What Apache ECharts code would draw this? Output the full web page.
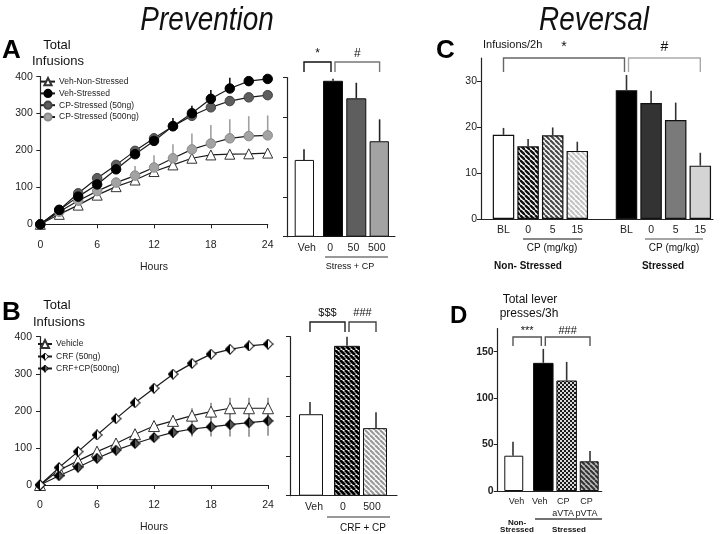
<!DOCTYPE html>
<html><head><meta charset="utf-8">
<script src="https://cdn.jsdelivr.net/npm/echarts@6/dist/echarts.min.js"></script>
<style>html,body{margin:0;padding:0;background:#fff}#c{width:725px;height:534px}</style>
</head><body><div id="c"></div>
<script>
const FONT = 'Liberation Sans, Arial, sans-serif';
// ---------- DATA ----------
const hours = [0,2,4,6,8,10,12,14,16,18,20,22,24];
const hourTicks = [0,6,12,18,24];
// Panel A (Prevention, stress)
const aVehNonStressed    = [0,27,52,79,102,120,143,161,179,188,190,191,193];
const aVehNonStressedErr = [0,3,4,5,6,7,8,9,10,10,10,10,10];
const aVehStressed       = [0,39,75,108,149,190,226,266,301,340,368,388,394];
const aVehStressedErr    = [0,3,5,8,10,12,20,22,20,24,29,10,6];
const aCp50              = [0,39,84,125,161,199,233,266,294,317,334,344,350];
const aCp50Err           = [0,3,5,6,8,10,12,15,18,14,14,12,10];
const aCp500             = [0,34,64,90,113,132,154,179,203,219,233,239,241];
const aCp500Err          = [0,3,6,8,14,26,33,38,43,50,52,54,54];
const aBarCats   = ['Veh','0','50','500'];
const aBarTotals = [193,392,348,240];
const aBarErr    = [27,5,39,55];
// Panel B (Prevention, CRF)
const bVehicle    = [0,40,65,90,112,137,159,173,187,198,207,207,207];
const bVehicleErr = [0,4,6,8,10,12,14,16,20,24,28,28,28];
const bCrf        = [0,47,90,135,179,222,261,299,328,353,366,375,380];
const bCrfErr     = [0,3,4,5,5,5,6,6,6,7,8,8,6];
const bCrfCp      = [0,25,48,72,94,112,128,142,151,157,163,168,173];
const bCrfCpErr   = [0,3,5,6,8,10,12,15,20,26,32,38,40];
const bBarCats   = ['Veh','0','500'];
const bBarTotals = [205,377,170];
const bBarErr    = [31,23,40];
// Panel C (Reversal, infusions/2h)
const cCats      = ['BL','0','5','15','','BL','0','5','15'];
const cInfusions = [18.3,15.8,18.2,14.8,null,28.0,25.2,21.5,11.6];
const cErr       = [1.5,1.6,1.7,2.0,null,3.3,2.7,3.8,2.8];
const cTicks     = [0,10,20,30];
// Panel D (lever presses/3h)
const dCats    = ['Veh','Veh','CP\naVTA','CP\npVTA'];
const dPresses = [38,138,119,32];
const dErr     = [15,15,20,11];
const dTicks   = [0,50,100,150];

// ---------- STYLE HELPERS ----------
function hatch(fg, bg, p, lw) {
  const c = document.createElement('canvas'); c.width = c.height = p;
  const g = c.getContext('2d'); g.fillStyle = bg; g.fillRect(0,0,p,p);
  g.strokeStyle = fg; g.lineWidth = lw;
  for (const k of [-p,0,p]) { g.beginPath(); g.moveTo(k,0); g.lineTo(k+p,p); g.stroke(); }
  return {image: c, repeat: 'repeat'};
}
function checker() {
  const c = document.createElement('canvas'); c.width = c.height = 4;
  const g = c.getContext('2d'); g.fillStyle = '#1a1a1a'; g.fillRect(0,0,4,4);
  g.fillStyle = '#d8d8d8'; g.fillRect(0,0,2,2); g.fillRect(2,2,2,2);
  return {image: c, repeat: 'repeat'};
}
function halfDiamond(rightColor) {
  const s = 24, c = document.createElement('canvas'); c.width = c.height = s;
  const g = c.getContext('2d');
  g.beginPath(); g.moveTo(s/2,1.5); g.lineTo(s-1.5,s/2); g.lineTo(s/2,s-1.5); g.closePath(); g.fillStyle = rightColor; g.fill();
  g.beginPath(); g.moveTo(s/2,1.5); g.lineTo(1.5,s/2); g.lineTo(s/2,s-1.5); g.closePath(); g.fillStyle = '#000'; g.fill();
  g.beginPath(); g.moveTo(s/2,1.5); g.lineTo(s-1.5,s/2); g.lineTo(s/2,s-1.5); g.lineTo(1.5,s/2); g.closePath();
  g.strokeStyle = '#000'; g.lineWidth = 2; g.stroke();
  return 'image://' + c.toDataURL();
}
const aBarColors = ['#ffffff','#000000','#5e5e5e','#a3a3a3'];
const bBarColors = ['#ffffff', hatch('#000','#fff',5,2.8), hatch('#9a9a9a','#fff',5,2.2)];
const cColors = ['#ffffff', hatch('#111','#fff',5,2.4), hatch('#4a4a4a','#fff',5,2.2), hatch('#c4c4c4','#fff',5,2.2), '#fff', '#000000', '#333333', '#7a7a7a', '#d4d4d4'];
const dColors = ['#ffffff','#000000', checker(), hatch('#333','#bdbdbd',5,2)];

const axLine = {show:true, lineStyle:{color:'#222', width:1.2}};
const axTick = {show:true, length:4, lineStyle:{color:'#222', width:1}};
const axLabel = {fontSize:10.5, color:'#222', fontFamily:FONT, margin:4};
const noSplit = {show:false};

function lineXAxis(gi) {
  return {type:'value', gridIndex:gi, min:0, max:24, interval:6, offset:10,
    axisLine:axLine, axisTick:axTick, axisLabel:{...axLabel, margin:5}, splitLine:noSplit,
    name:'Hours', nameLocation:'middle', nameGap:27, nameTextStyle:{fontSize:10.5, color:'#222', fontFamily:FONT}};
}
function lineYAxis(gi) {
  return {type:'value', gridIndex:gi, min:0, max:400, interval:100, offset:3.5,
    axisLine:axLine, axisTick:axTick, axisLabel:axLabel, splitLine:noSplit};
}
function frameX(gi) { return {type:'value', gridIndex:gi, min:0, max:1, axisLine:axLine, axisTick:{show:false}, axisLabel:{show:false}, splitLine:noSplit}; }
function frameY(gi, max, ticks, labels, bold) {
  return {type:'value', gridIndex:gi, min:0, max:max,
    axisLine:axLine, axisTick:{...axTick, customValues:ticks},
    axisLabel:{...axLabel, show:labels, customValues:ticks, fontWeight: bold ? 'bold' : 'normal'}, splitLine:noSplit};
}
function dataX(gi, cats, fs) {
  return {type:'category', gridIndex:gi, data:cats, axisLine:{show:false}, axisTick:{show:false},
    axisLabel:{fontSize:fs, color:'#222', fontFamily:FONT, margin:5, lineHeight:12, interval:0}, splitLine:noSplit};
}
function dataY(gi, max) { return {type:'value', gridIndex:gi, min:0, max:max, show:false}; }

function lineSeries(gi, name, ys, symbol, size, color, border) {
  return {type:'line', name, xAxisIndex:gi, yAxisIndex:gi, data: hours.map((h,i)=>[h, ys[i]]),
    symbol, symbolSize:size, showAllSymbol:true, z:3,
    itemStyle:{color, borderColor:border, borderWidth:1}, lineStyle:{color:'#1a1a1a', width:1.2}, silent:true};
}
function errSeries(gi, xs, ys, es, color, both, shift) {
  return {type:'custom', xAxisIndex:gi, yAxisIndex:gi, silent:true, z: both === 'bar' ? 4 : 1,
    data: xs.map((x,i)=> ys[i] == null ? null : [x, ys[i], es[i]]).filter(d=>d),
    renderItem(params, api) {
      const x = api.value(0), y = api.value(1), e = api.value(2);
      const sh = shift ? shift(x) : 0;
      const lo = both === true ? y - e : y;
      const p0 = api.coord([x, lo]), p1 = api.coord([x, y + e]);
      return {type:'line', shape:{x1:p0[0]+sh, y1:p0[1], x2:p1[0]+sh, y2:p1[1]}, style:{stroke:color, lineWidth:1.6}};
    }};
}
// two bar series in one category axis so that the first group sits apart from the others
function groupedBars(gi, vals, colors, firstGroup, bw, gapFrac) {
  const mk = keep => vals.map((v,i)=> keep(i) ? {value:v, itemStyle:{color:colors[i]}} : '-');
  const base = {type:'bar', xAxisIndex:gi, yAxisIndex:gi, barWidth:bw, barGap:(gapFrac*100)+'%',
    itemStyle:{borderColor:'#111', borderWidth:1}, silent:true, z:2};
  return [{...base, data:mk(i=>i<firstGroup)}, {...base, data:mk(i=>i>=firstGroup)}];
}
const aBW = 20, aGap = -0.715, aD = (aBW + aBW*aGap)/2;
const bBW = 26, bGap = -0.692, bD = (bBW + bBW*bGap)/2;
const dBW = 20.5, dGap = -0.66, dD = (dBW + dBW*dGap)/2;
const aShift = i => i < 1 ? -aD : aD;
const bShift = i => i < 1 ? -bD : bD;
const dShift = i => i < 1 ? -dD : dD;

const crfSym = halfDiamond('#ffffff');
const crfCpSym = halfDiamond('#555555');

const grids = [
  {left:40.3, top:76.7, width:227.4, height:147.6},   // 0 A line
  {left:287, top:77.6, width:108, height:159.1},      // 1 A bar frame
  {left:295.2, top:77.6, width:93.2, height:159.1},   // 2 A bar data
  {left:40, top:336.7, width:228, height:148.3},      // 3 B line
  {left:290, top:336.7, width:107, height:159},       // 4 B bar frame
  {left:299.5, top:336.7, width:87, height:159},      // 5 B bar data
  {left:481, top:58, width:232, height:161},          // 6 C frame
  {left:491.2, top:58, width:221.4, height:161},      // 7 C data
  {left:497.7, top:328.5, width:104, height:162.5},   // 8 D frame
  {left:504.8, top:328.5, width:93.4, height:162.5}   // 9 D data
];

const option = {
  animation:false, backgroundColor:'#fff',
  grid: grids,
  xAxis: [lineXAxis(0), frameX(1), dataX(2,aBarCats,10.5), lineXAxis(3), frameX(4), dataX(5,bBarCats,10.5),
          frameX(6), dataX(7,cCats,10.5), frameX(8), dataX(9,dCats,9)],
  yAxis: [lineYAxis(0), frameY(1,400,[0,100,200,300,400],false), dataY(2,400),
          {...lineYAxis(3), offset:4}, frameY(4,400,[0,100,200,300,400],false), dataY(5,400),
          frameY(6,35,cTicks,true,false), dataY(7,35), frameY(8,175,dTicks,true,true), dataY(9,175)],
  legend: [
    {data:['Veh-Non-Stressed','Veh-Stressed','CP-Stressed (50ng)','CP-Stressed (500ng)'], orient:'vertical',
     left:40, top:77, padding:0, itemWidth:14, itemHeight:9, itemGap:2.6, selectedMode:false,
     textStyle:{fontSize:8.5, color:'#222', fontFamily:FONT, padding:[0,0,0,-1]}},
    {data:['Vehicle','CRF (50ng)','CRF+CP(500ng)'], orient:'vertical',
     left:37, top:339, padding:0, itemWidth:14, itemHeight:10, itemGap:3, selectedMode:false,
     textStyle:{fontSize:8.5, color:'#222', fontFamily:FONT, padding:[0,0,0,-1]}}
  ],
  series: [
    // A line
    errSeries(0, hours, aVehNonStressed, aVehNonStressedErr, '#777', false),
    errSeries(0, hours, aCp500, aCp500Err, '#a0a0a0', false),
    errSeries(0, hours, aCp50, aCp50Err, '#555', false),
    errSeries(0, hours, aVehStressed, aVehStressedErr, '#111', false),
    lineSeries(0, 'Veh-Non-Stressed', aVehNonStressed, 'triangle', 10, '#fff', '#333'),
    lineSeries(0, 'CP-Stressed (500ng)', aCp500, 'circle', 9.5, '#a3a3a3', '#8a8a8a'),
    lineSeries(0, 'CP-Stressed (50ng)', aCp50, 'circle', 9.5, '#5e5e5e', '#444'),
    lineSeries(0, 'Veh-Stressed', aVehStressed, 'circle', 9.5, '#000', '#000'),
    // A bar
    ...groupedBars(2, aBarTotals, aBarColors, 1, aBW, aGap),
    errSeries(2, aBarCats.map((c,i)=>i), aBarTotals, aBarErr, '#222', 'bar', aShift),
    // B line
    errSeries(3, hours, bVehicle, bVehicleErr, '#8a8a8a', true),
    errSeries(3, hours, bCrfCp, bCrfCpErr, '#8a8a8a', true),
    errSeries(3, hours, bCrf, bCrfErr, '#555', true),
    lineSeries(3, 'Vehicle', bVehicle, 'triangle', 11, '#fff', '#333'),
    lineSeries(3, 'CRF+CP(500ng)', bCrfCp, crfCpSym, 11, '#000', '#000'),
    lineSeries(3, 'CRF (50ng)', bCrf, crfSym, 11, '#000', '#000'),
    // B bar
    ...groupedBars(5, bBarTotals, bBarColors, 1, bBW, bGap),
    errSeries(5, bBarCats.map((c,i)=>i), bBarTotals, bBarErr, '#333', 'bar', bShift),
    // C bar
    {type:'bar', xAxisIndex:7, yAxisIndex:7, barWidth:21.5, silent:true, z:2,
     itemStyle:{borderColor:'#111', borderWidth:1.2},
     data: cInfusions.map((v,i)=> v == null ? '-' : {value:v, itemStyle:{color:cColors[i]}})},
    errSeries(7, cCats.map((c,i)=>i), cInfusions, cErr, '#333', 'bar'),
    // D bar
    ...groupedBars(9, dPresses, dColors, 1, dBW, dGap),
    errSeries(9, dCats.map((c,i)=>i), dPresses, dErr, '#333', 'bar', dShift)
  ]
};

const chart = echarts.init(document.getElementById('c'), null, {renderer:'canvas', width:725, height:534});
chart.setOption(option);

// ---------- ANNOTATIONS ----------
function barCenter(gi, i, shift) {
  return chart.convertToPixel({xAxisIndex:gi, yAxisIndex:gi}, [i, 0])[0] + (shift ? shift(i) : 0);
}
function txt(x, y, s, size, o) {
  o = o || {};
  return {type:'text', x, y, silent:true, scaleX:o.sx || 1, z:10,
    style:{text:s, fontSize:size, fontFamily:FONT, fill:o.fill || '#111', align:o.align || 'center',
      verticalAlign:'middle', fontWeight:o.weight || 'normal', fontStyle:o.style || 'normal'}};
}
function seg(x1, y1, x2, y2, color, w) {
  return {type:'line', silent:true, z:10, shape:{x1,y1,x2,y2}, style:{stroke:color, lineWidth:w || 1.3}};
}
function brackets(gi, shift, list, yTop, yBot, yLab, fs) {
  const out = [];
  list.forEach(b => {
    let x1 = barCenter(gi, b.from, shift), x2 = barCenter(gi, b.to, shift);
    if (list.some(o => o !== b && o.from === b.to)) x2 -= 2;
    if (list.some(o => o !== b && o.to === b.from)) x1 += 2;
    out.push({type:'polyline', silent:true, z:10, shape:{points:[[x1,yBot],[x1,yTop],[x2,yTop],[x2,yBot]]},
      style:{stroke:b.color, lineWidth:1.4, fill:null}});
    out.push(txt((x1+x2)/2, yLab, b.label, fs, {fill:'#111'}));
  });
  return out;
}
const g = [];
// titles
g.push(txt(207, 21, 'Prevention', 34, {style:'italic', sx:0.82}));
g.push(txt(594, 21, 'Reversal', 34, {style:'italic', sx:0.82}));
// panel letters and y titles
g.push(txt(2, 51, 'A', 26, {align:'left', weight:'bold', fill:'#000'}));
g.push(txt(57, 45, 'Total', 13)); g.push(txt(58, 61, 'Infusions', 13));
g.push(txt(2, 313, 'B', 26, {align:'left', weight:'bold', fill:'#000'}));
g.push(txt(57, 305, 'Total', 13)); g.push(txt(59, 322, 'Infusions', 13));
g.push(txt(436, 51, 'C', 26, {align:'left', weight:'bold', fill:'#000'}));
g.push(txt(483, 45, 'Infusions/2h', 11, {align:'left'}));
g.push(txt(450, 316, 'D', 24, {align:'left', weight:'bold', fill:'#000'}));
g.push(txt(530, 300, 'Total lever', 12)); g.push(txt(529, 314, 'presses/3h', 12));
// group labels
g.push(seg(325, 257, 388, 257, '#777', 1.5)); g.push(txt(350, 267, 'Stress + CP', 9));
g.push(seg(327, 517, 390, 517, '#777', 1.5)); g.push(txt(363, 528, 'CRF + CP', 10));
g.push(seg(523, 239, 582, 239, '#111', 1.2)); g.push(txt(552, 248, 'CP (mg/kg)', 10));
g.push(seg(645, 239, 703, 239, '#888', 1.5)); g.push(txt(674, 248, 'CP (mg/kg)', 10));
g.push(txt(528, 266, 'Non- Stressed', 10, {weight:'bold'}));
g.push(txt(663, 266, 'Stressed', 10, {weight:'bold'}));
g.push(seg(535, 519, 602, 519, '#444', 1.5));
g.push(txt(517, 523, 'Non-', 8, {weight:'bold'}));
g.push(txt(517, 530, 'Stressed', 8, {weight:'bold'}));
g.push(txt(569, 530, 'Stressed', 8, {weight:'bold'}));
// significance brackets
g.push(...brackets(2, aShift, [{from:0,to:1,label:'*',color:'#111'},{from:1,to:3,label:'#',color:'#777'}], 62, 72, 54, 12));
g.push(...brackets(5, bShift, [{from:0,to:1,label:'$$$',color:'#222'},{from:1,to:2,label:'###',color:'#444'}], 322, 332, 313, 11));
g.push(...brackets(7, null, [{from:0,to:5,label:'*',color:'#666'},{from:5,to:8,label:'#',color:'#aaa'}], 58, 72, 47, 14));
g.push(...brackets(9, dShift, [{from:0,to:1,label:'***',color:'#555'},{from:1,to:3,label:'###',color:'#555'}], 337, 346, 331, 11));
chart.setOption({graphic: g});
</script>
</body></html>
